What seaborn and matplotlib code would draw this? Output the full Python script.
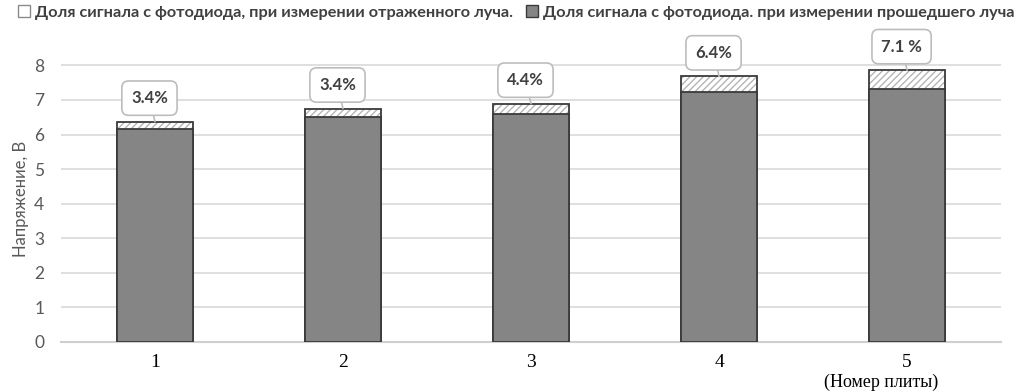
import matplotlib
matplotlib.use("Agg")
import matplotlib.pyplot as plt
import seaborn as sns
import pandas as pd
from matplotlib.patches import Patch

plates = ["1", "2", "3", "4", "5"]
transmitted = [6.16, 6.50, 6.58, 7.22, 7.32]   # dark part, V
reflected = [0.21, 0.25, 0.31, 0.46, 0.54]     # hatched part, V
labels = ["3.4%", "3.4%", "4.4%", "6.4%", "7.1 %"]

legend_reflected = "Доля сигнала с фотодиода, при измерении отраженного луча."
legend_transmitted = "Доля сигнала с фотодиода. при измерении прошедшего луча"
y_label = "Напряжение, В"
x_note = "(Номер плиты)"

sns.set_theme(style="white")
plt.rcParams["font.family"] = ["Lato", "DejaVu Sans"]

df = pd.DataFrame({
    "plate": plates,
    "transmitted": transmitted,
    "total": [t + r for t, r in zip(transmitted, reflected)],
})

fig = plt.figure(figsize=(10.32, 3.92), dpi=100)
ax = fig.add_axes([0.0591, 0.1276, 0.911, 0.732])

gray_txt = "#595959"
dark_fill = "#858585"
edge = "#3a3a3a"

# hatched total bars
sns.barplot(data=df, x="plate", y="total", color="white", width=0.405,
            edgecolor="#b5b5b5", linewidth=0, saturation=1, ax=ax, zorder=2)
for p in ax.patches:
    p.set_hatch("/////")
# outline of total bars
sns.barplot(data=df, x="plate", y="total", fill=False, width=0.405,
            edgecolor=edge, linewidth=1.3, ax=ax, zorder=3)
# dark transmitted part
sns.barplot(data=df, x="plate", y="transmitted", color=dark_fill, width=0.405,
            edgecolor=edge, linewidth=1.3, saturation=1, ax=ax, zorder=4)

ax.set_xlim(-0.5, 4.5)
ax.set_ylim(0, 8.3)
ax.set_yticks(range(0, 9))
ax.yaxis.grid(True, color="#d9d9d9", linewidth=1.2, zorder=0)
ax.set_axisbelow(True)
for s in ["top", "right", "left"]:
    ax.spines[s].set_visible(False)
ax.spines["bottom"].set_color("#cfcfcf")
ax.spines["bottom"].set_linewidth(1.5)

ax.tick_params(axis="y", length=0, pad=12, labelsize=12.5, labelcolor=gray_txt)
ax.tick_params(axis="x", length=0, pad=9, labelsize=14, labelcolor="black")
for t in ax.get_xticklabels():
    t.set_fontfamily(["Liberation Serif", "DejaVu Serif"])
ax.set_xlabel("")
ax.set_ylabel(y_label, fontsize=12, color=gray_txt, labelpad=4)

# annotation callouts
tot = df["total"].tolist()
for i, (lab, top) in enumerate(zip(labels, tot)):
    ax.annotate(lab, xy=(i, top), xytext=(-4, 17), textcoords="offset points",
                ha="center", va="center", fontsize=12, fontweight="bold",
                color="#404040", zorder=6,
                bbox=dict(boxstyle="round,pad=0.55,rounding_size=0.4",
                          fc="white", ec="#bdbdbd", lw=1.2),
                arrowprops=dict(arrowstyle="-", color="#bdbdbd", lw=1.2,
                                shrinkA=0, shrinkB=0))

# "(Номер плиты)" note under last category
ax.text(3.86, -0.11, x_note, transform=ax.get_xaxis_transform(),
        ha="center", va="top", fontsize=13,
        family=["Liberation Serif", "DejaVu Serif"], color="black")

handles = [
    Patch(facecolor="white", edgecolor="#8a8a8a", linewidth=1.0),
    Patch(facecolor=dark_fill, edgecolor=edge, linewidth=1.0),
]
fig.legend(handles, [legend_reflected, legend_transmitted], loc="upper center",
           bbox_to_anchor=(0.5, 1.015), ncol=2, frameon=False,
           handlelength=0.75, handleheight=0.75, handletextpad=0.3,
           columnspacing=0.8, prop=dict(size=11.7, weight="bold"),
           labelcolor="#404040", borderaxespad=0.3)

fig.savefig("out.png", dpi=100)
